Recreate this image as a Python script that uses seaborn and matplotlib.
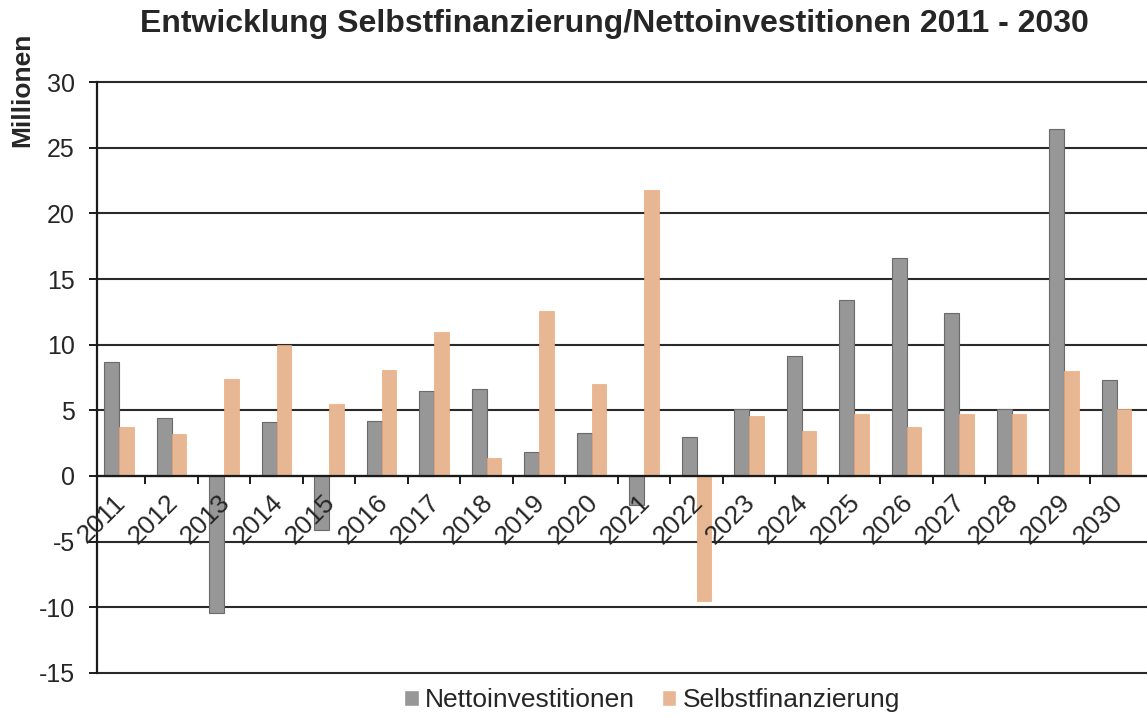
import numpy as np
import pandas as pd
import seaborn as sns
import matplotlib.pyplot as plt
from matplotlib.ticker import FixedLocator
import matplotlib.transforms as mtransforms

years = [str(y) for y in range(2011, 2031)]
netto = [8.7, 4.4, -10.4, 4.1, -4.1, 4.2, 6.5, 6.6, 1.8, 3.3,
         -2.2, 3.0, 5.1, 9.1, 13.4, 16.6, 12.4, 5.1, 26.4, 7.3]
selbst = [3.7, 3.2, 7.4, 10.0, 5.5, 8.1, 11.0, 1.4, 12.6, 7.0,
          21.8, -9.5, 4.6, 3.4, 4.7, 3.7, 4.7, 4.7, 8.0, 5.1]
series = ['Nettoinvestitionen', 'Selbstfinanzierung']
colors = ['#979797', '#f5b586']
yticks = list(range(-15, 31, 5))

df = pd.DataFrame({
    'Jahr': years * 2,
    'Wert': netto + selbst,
    'Reihe': [series[0]] * len(years) + [series[1]] * len(years),
})

sns.set_style('white')
plt.rcParams['font.family'] = ['Liberation Sans', 'DejaVu Sans']
plt.rcParams['axes.unicode_minus'] = False

fig = plt.figure(figsize=(11.47, 7.17), dpi=100)
ax = fig.add_axes([0.0846, 0.0614, 0.9154, 0.8242])

sns.barplot(data=df, x='Jahr', y='Wert', hue='Reihe', palette=colors,
            width=0.56, gap=0, ax=ax, legend=True)

for i, cont in enumerate(ax.containers):
    for bar in cont:
        if i == 0:
            bar.set_edgecolor('#6a6a6a')
            bar.set_linewidth(0.8)
        else:
            bar.set_edgecolor('#f0a878')
            bar.set_linewidth(0.5)

ax.set_ylim(-15, 30)
ax.set_xlim(-0.42, len(years) - 0.42)
ax.set_yticks(yticks)
# gridlines behind the bars, axis labels above them
for v in yticks:
    ax.axhline(v, color='#2a2a2a', linewidth=1.5, zorder=0.5, clip_on=False)
ax.set_axisbelow(False)

for s in ['top', 'right']:
    ax.spines[s].set_visible(False)
ax.spines['left'].set_color('#1a1a1a')
ax.spines['left'].set_linewidth(1.6)
ax.spines['bottom'].set_position(('data', 0))
ax.spines['bottom'].set_color('#1a1a1a')
ax.spines['bottom'].set_linewidth(1.6)

ax.tick_params(axis='y', direction='out', length=6, width=1.4,
               color='#1a1a1a', labelsize=18, pad=10, left=True)
ax.tick_params(axis='x', which='major', length=0, labelsize=19, pad=6)
ax.xaxis.set_minor_locator(FixedLocator(np.arange(0.5, len(years) - 0.5, 1)))
ax.tick_params(axis='x', which='minor', direction='out', length=6,
               width=1.4, color='#1a1a1a', bottom=True)

offset = mtransforms.ScaledTranslation(-6 / 100, -6 / 100, fig.dpi_scale_trans)
for lab in ax.get_xticklabels():
    lab.set_rotation(45)
    lab.set_ha('right')
    lab.set_va('top')
    lab.set_rotation_mode('anchor')
    lab.set_transform(lab.get_transform() + offset)

ax.set_xlabel('')
ax.set_ylabel('')

ax.legend(loc='center', bbox_to_anchor=(652 / 1147, 1 - 700 / 717),
          bbox_transform=fig.transFigure, ncol=2, frameon=False,
          fontsize=19, handlelength=0.55, handleheight=0.55,
          handletextpad=0.25, columnspacing=1.0)

fig.text(0.536, 1 - 24 / 717, 'Entwicklung Selbstfinanzierung/Nettoinvestitionen 2011 - 2030',
         ha='center', va='center', fontsize=23, fontweight='bold')
fig.text(22 / 1147, 1 - 90 / 717, 'Millionen', rotation=90, ha='center',
         va='center', fontsize=19, fontweight='bold')

fig.savefig('out.png', dpi=100)
